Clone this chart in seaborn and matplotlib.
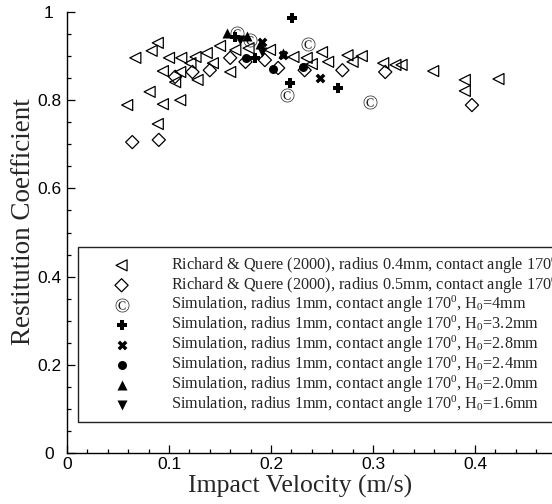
import matplotlib
matplotlib.use("Agg")
import matplotlib.pyplot as plt
import seaborn as sns
from matplotlib.ticker import MultipleLocator, FuncFormatter

# Richard & Quere (2000), radius 0.4mm
rq04_v = [0.067, 0.083, 0.089, 0.100, 0.112, 0.126, 0.137, 0.150, 0.165, 0.094,
          0.111, 0.121, 0.106, 0.128, 0.143, 0.160, 0.081, 0.059, 0.094, 0.111,
          0.089, 0.178, 0.199, 0.222, 0.235, 0.240, 0.250, 0.256, 0.275, 0.280,
          0.289, 0.310, 0.322, 0.328, 0.359, 0.390, 0.390, 0.423]
rq04_e = [0.896, 0.912, 0.930, 0.896, 0.896, 0.898, 0.907, 0.923, 0.914, 0.866,
          0.864, 0.884, 0.841, 0.846, 0.884, 0.864, 0.819, 0.789, 0.791, 0.800,
          0.746, 0.918, 0.914, 0.898, 0.896, 0.882, 0.909, 0.887, 0.902, 0.887,
          0.900, 0.884, 0.880, 0.880, 0.866, 0.846, 0.821, 0.848]
# Richard & Quere (2000), radius 0.5mm
rq05_v = [0.064, 0.090, 0.106, 0.123, 0.140, 0.160, 0.175, 0.194, 0.207, 0.233,
          0.270, 0.312, 0.397]
rq05_e = [0.705, 0.710, 0.853, 0.864, 0.868, 0.896, 0.887, 0.891, 0.873, 0.868,
          0.868, 0.864, 0.789]
# Simulations, radius 1mm
h40_v = [0.167, 0.179, 0.236, 0.216, 0.297]
h40_e = [0.952, 0.937, 0.927, 0.812, 0.796]
h32_v = [0.221, 0.165, 0.184, 0.219, 0.266]
h32_e = [0.986, 0.943, 0.896, 0.839, 0.828]
h28_v = [0.191, 0.212, 0.248]
h28_e = [0.932, 0.902, 0.850]
h24_v = [0.175, 0.202, 0.231]
h24_e = [0.896, 0.870, 0.875]
h20_v = [0.157, 0.176, 0.189, 0.212]
h20_e = [0.952, 0.946, 0.927, 0.907]
h16_v = [0.170, 0.191]
h16_e = [0.937, 0.909]

labels = [
    "Richard & Quere (2000), radius 0.4mm, contact angle 170$^{0}$",
    "Richard & Quere (2000), radius 0.5mm, contact angle 170$^{0}$",
    "Simulation, radius 1mm, contact angle 170$^{0}$, H$_{0}$=4mm",
    "Simulation, radius 1mm, contact angle 170$^{0}$, H$_{0}$=3.2mm",
    "Simulation, radius 1mm, contact angle 170$^{0}$, H$_{0}$=2.8mm",
    "Simulation, radius 1mm, contact angle 170$^{0}$, H$_{0}$=2.4mm",
    "Simulation, radius 1mm, contact angle 170$^{0}$, H$_{0}$=2.0mm",
    "Simulation, radius 1mm, contact angle 170$^{0}$, H$_{0}$=1.6mm",
]

sns.set_theme(style="ticks")
plt.rcParams.update({
    "font.family": ["Liberation Sans", "DejaVu Sans"],
    "mathtext.fontset": "custom",
    "mathtext.rm": "Liberation Serif",
    "mathtext.it": "Liberation Serif:italic",
    "mathtext.bf": "Liberation Serif:bold",
})

fig = plt.figure(figsize=(5.52, 5.04), dpi=100)
W, H = 552, 504
ax = fig.add_axes([67 / W, 51 / H, 1 - 67 / W, 441 / H])

open_kw = dict(facecolor="none", edgecolor="black", linewidth=0.9, legend=False)
sns.scatterplot(x=rq04_v, y=rq04_e, ax=ax, marker="<", s=63, label=labels[0], **open_kw)
sns.scatterplot(x=rq05_v, y=rq05_e, ax=ax, marker="D", s=45, label=labels[1], **open_kw)
sns.scatterplot(x=h40_v, y=h40_e, ax=ax, marker="$©$", s=100, color="#222222",
                linewidth=0, label=labels[2], legend=False)
sns.scatterplot(x=h32_v, y=h32_e, ax=ax, marker="P", s=45, color="black",
                linewidth=0, label=labels[3], legend=False)
sns.scatterplot(x=h28_v, y=h28_e, ax=ax, marker="X", s=50, color="black",
                linewidth=0, label=labels[4], legend=False)
sns.scatterplot(x=h24_v, y=h24_e, ax=ax, marker="o", s=42, color="black",
                linewidth=0, label=labels[5], legend=False)
sns.scatterplot(x=h20_v, y=h20_e, ax=ax, marker="^", s=52, color="black",
                linewidth=0, label=labels[6], legend=False)
sns.scatterplot(x=h16_v, y=h16_e, ax=ax, marker="v", s=52, color="black",
                linewidth=0, label=labels[7], legend=False)

ax.set_xlim(0, 485 / 1020)
ax.set_ylim(0, 1)
ax.xaxis.set_major_locator(MultipleLocator(0.1))
ax.xaxis.set_minor_locator(MultipleLocator(0.02))
ax.yaxis.set_major_locator(MultipleLocator(0.2))
ax.yaxis.set_minor_locator(MultipleLocator(0.05))
fmt = FuncFormatter(lambda v, p: "%g" % round(v, 3))
ax.xaxis.set_major_formatter(fmt)
ax.yaxis.set_major_formatter(fmt)
ax.tick_params(which="both", direction="in", top=False, right=False,
               colors="black", width=0.9, labelsize=12.5)
ax.tick_params(which="major", length=6)
ax.tick_params(axis="x", which="major", pad=3)
ax.tick_params(axis="y", which="major", pad=13)
ax.tick_params(which="minor", length=3)
plt.setp(ax.get_yticklabels(), ha="center")
for s in ["top", "right"]:
    ax.spines[s].set_visible(False)
for s in ["left", "bottom"]:
    ax.spines[s].set_color("black")
    ax.spines[s].set_linewidth(1.0)

ax.set_xlabel("Impact Velocity (m/s)", fontfamily="Liberation Serif", fontsize=18.5)
ax.set_ylabel("Restitution Coefficient", fontfamily="Liberation Serif", fontsize=19.5)
ax.xaxis.set_label_coords(233 / 485, -33 / 441)
ax.xaxis.label.set_va("center")
ax.yaxis.set_label_coords(-43 / 485, 231 / 441)
ax.yaxis.label.set_va("center")

leg = ax.legend(loc="upper left", bbox_to_anchor=(11 / 485, 206 / 441),
                borderaxespad=0, frameon=True, fancybox=False, framealpha=1,
                edgecolor="#222222", scatterpoints=1, borderpad=0.45,
                handlelength=4.46, handletextpad=0.84, labelspacing=-0.085,
                prop={"family": "Liberation Serif", "size": 11.7})
leg.get_frame().set_linewidth(1.0)

fig.savefig("out.png", dpi=100)
